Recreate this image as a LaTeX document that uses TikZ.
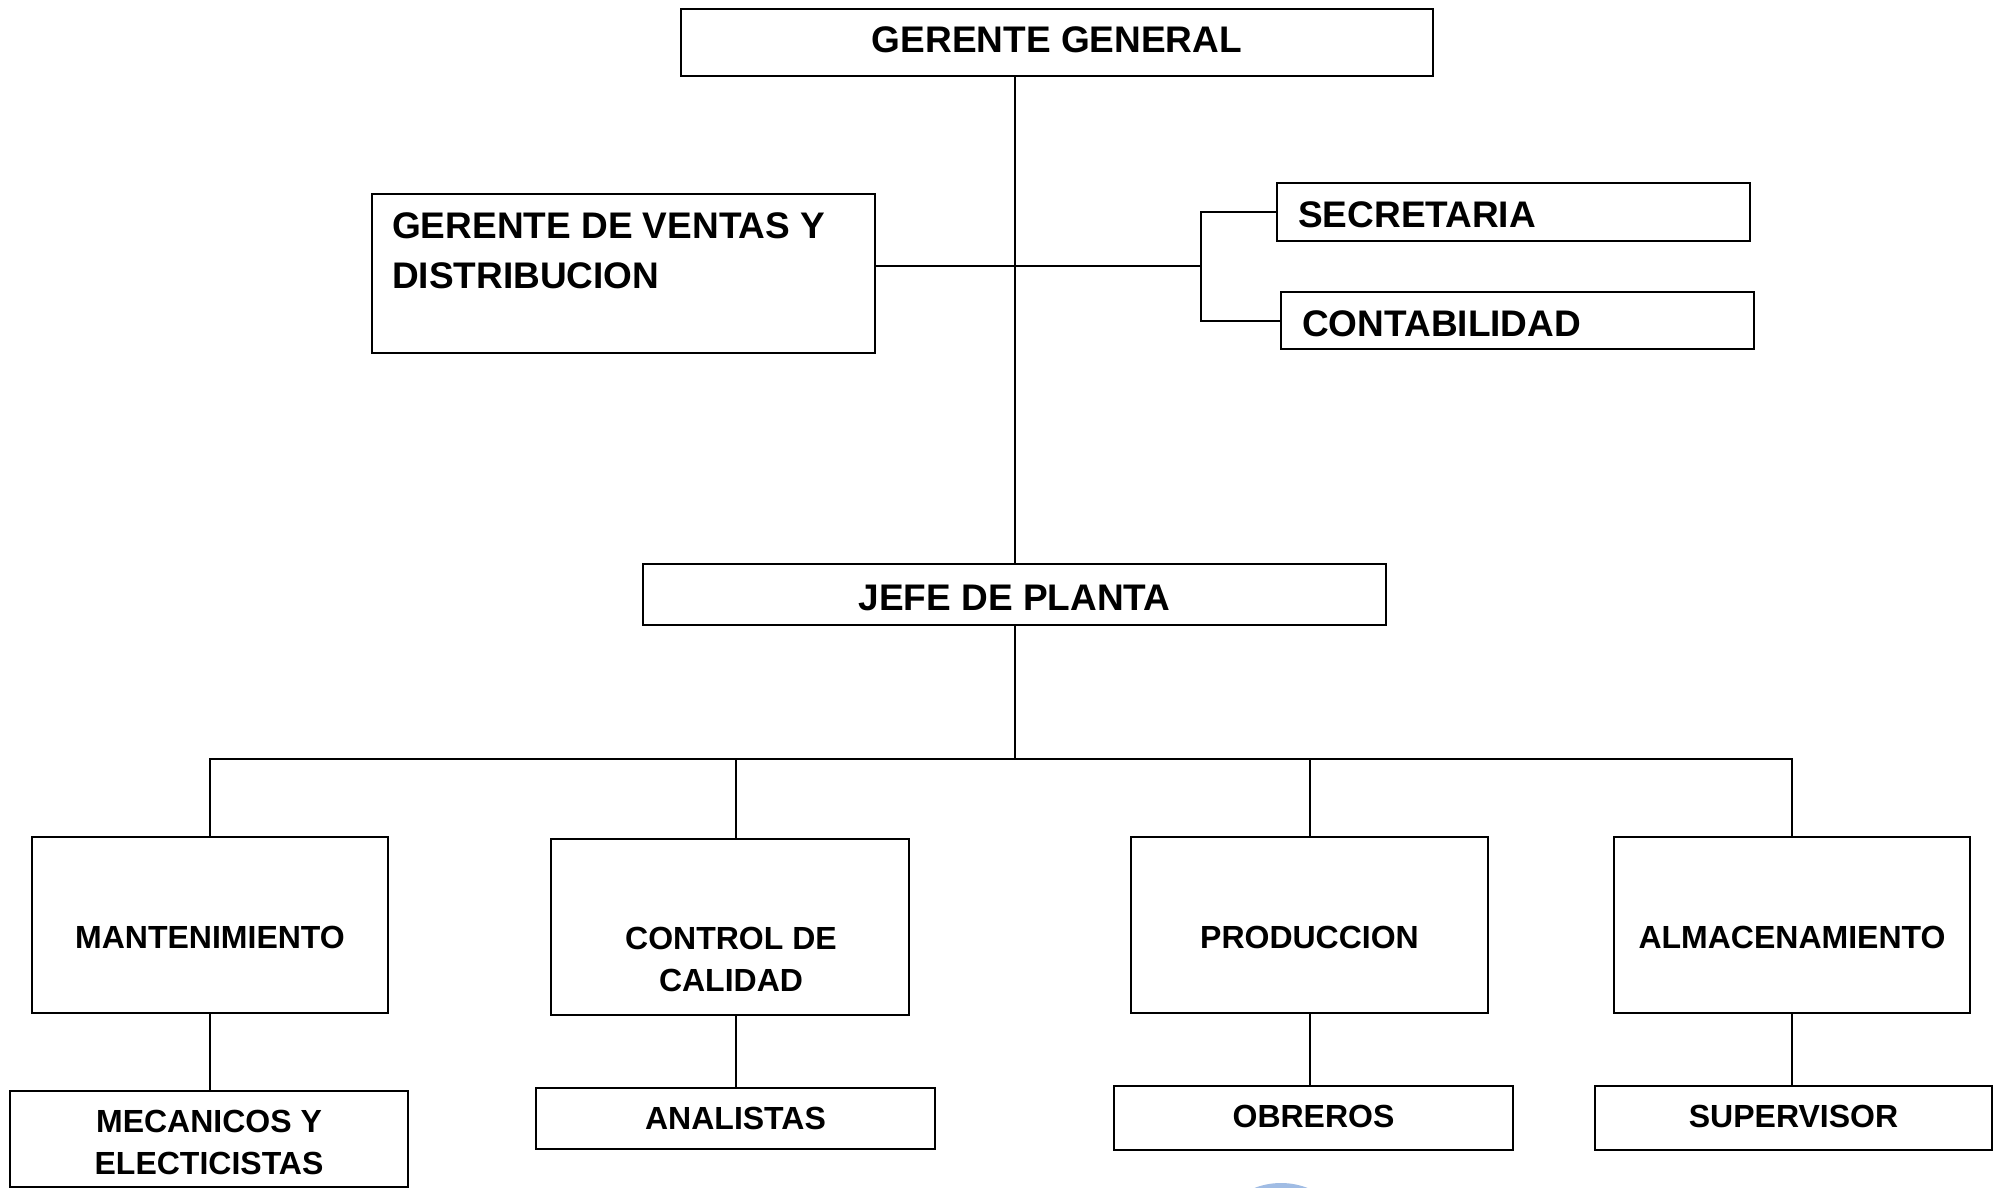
\documentclass[tikz,border=0pt]{standalone}
\usepackage{fontspec}
\setmainfont{Liberation Sans}
\definecolor{wmblue}{RGB}{160,188,228}
\begin{document}
\begin{tikzpicture}[x=1pt,y=-1pt,
  box/.style={draw=black, line width=2pt, fill=white, inner sep=0pt},
  bigtxt/.style={inner sep=0pt, align=center, font=\bfseries\fontsize{37}{50}\selectfont},
  bigltxt/.style={bigtxt, align=left},
  smalltxt/.style={inner sep=0pt, align=center, font=\bfseries\fontsize{32}{42}\selectfont},
  conn/.style={line width=2pt, black}]
\clip (0,0) rectangle (1997,1188);
\useasboundingbox (0,0) rectangle (1997,1188);
\fill[white] (0,0) rectangle (1997,1188);
\fill[wmblue] (1281,1256) circle (73);

% top level boxes
\node[box, minimum width=752, minimum height=67] (gg) at (1057,42.5) {};
\node[box, minimum width=503, minimum height=159] (gv) at (623.5,273.5) {};
\node[box, minimum width=473, minimum height=58] (sec) at (1513.5,212) {};
\node[box, minimum width=473, minimum height=57] (con) at (1517.5,320.5) {};
\node[box, minimum width=743, minimum height=61] (jp) at (1014.5,594.5) {};

% departments
\node[box, minimum width=356, minimum height=176] (mant) at (210,925) {};
\node[box, minimum width=358, minimum height=176] (cc) at (730,927) {};
\node[box, minimum width=357, minimum height=176] (prod) at (1309.5,925) {};
\node[box, minimum width=356, minimum height=176] (alm) at (1792,925) {};

% bottom boxes
\node[box, minimum width=398, minimum height=96] (mec) at (209,1139) {};
\node[box, minimum width=399, minimum height=61] (ana) at (735.5,1118.5) {};
\node[box, minimum width=399, minimum height=64] (obr) at (1313.5,1118) {};
\node[box, minimum width=397, minimum height=64] (sup) at (1793.5,1118) {};

% texts
\node[bigtxt] (ggt) at (1057,39.5) {GERENTE GENERAL};
\node[bigltxt, anchor=base west] (gvt) at (392,288) {GERENTE DE VENTAS Y\\DISTRIBUCION};
\node[bigltxt, anchor=west] (sect) at (1298,215) {SECRETARIA};
\node[bigltxt, anchor=west] (cont) at (1302,324) {CONTABILIDAD};
\node[bigtxt] (jpt) at (1014.5,597.5) {JEFE DE PLANTA};
\node[smalltxt] (mantt) at (210,937) {MANTENIMIENTO};
\node[smalltxt] (cct) at (731,959) {CONTROL DE\\CALIDAD};
\node[smalltxt] (prodt) at (1309.5,937) {PRODUCCION};
\node[smalltxt] (almt) at (1792,937) {ALMACENAMIENTO};
\node[smalltxt] (mect) at (209,1142) {MECANICOS Y\\ELECTICISTAS};
\node[smalltxt] (anat) at (735.5,1118.5) {ANALISTAS};
\node[smalltxt] (obrt) at (1313.5,1116) {OBREROS};
\node[smalltxt] (supt) at (1793.5,1116) {SUPERVISOR};

% connectors
\coordinate (br) at (1201,266);
\coordinate (bus) at (0,759);
\draw[conn] (jp.north |- gg.south) -- (jp.north);
\draw[conn] (gv.east |- br) -- (br);
\draw[conn] (sec.west) -| (br) |- (con.west);
\draw[conn] (jp.south) -- (jp.south |- bus);
\draw[conn] (mant.north) -- (mant.north |- bus) -- (alm.north |- bus) -- (alm.north);
\draw[conn] (ana.north |- bus) -- (ana.north |- cc.north);
\draw[conn] (prod.north |- bus) -- (prod.north);
\draw[conn] (mant.south) -- (mant.south |- mec.north);
\draw[conn] (ana.north |- cc.south) -- (ana.north);
\draw[conn] (prod.south) -- (prod.south |- obr.north);
\draw[conn] (alm.south) -- (alm.south |- sup.north);
\end{tikzpicture}
\end{document}
